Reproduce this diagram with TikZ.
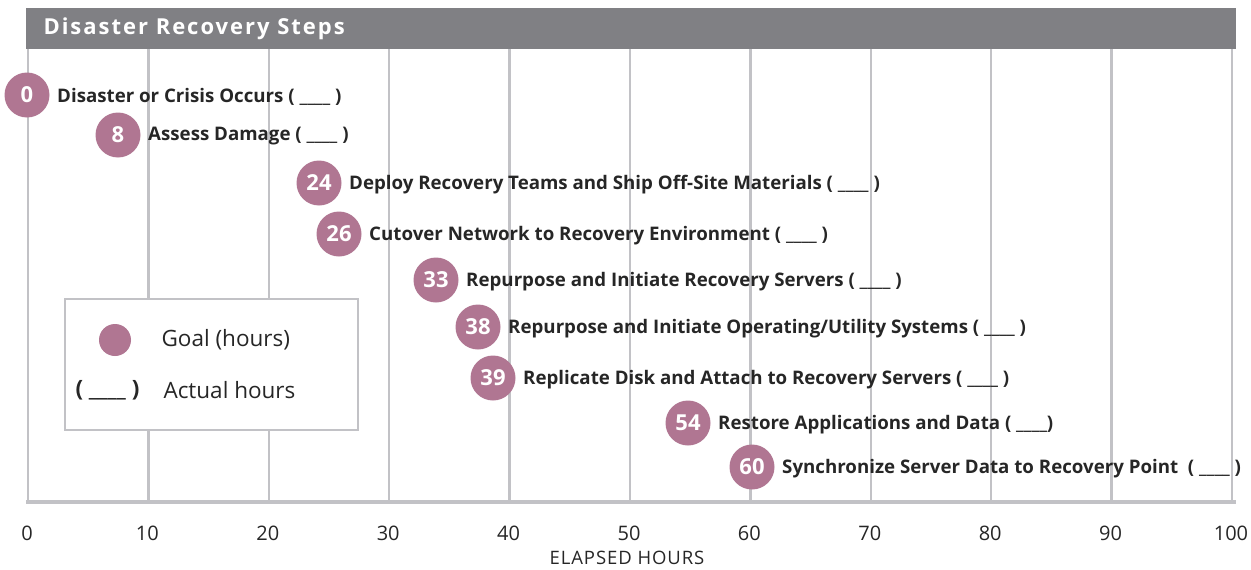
\documentclass[tikz,border=0pt]{standalone}
\usepackage{fontspec}
\setmainfont{Open Sans}
\usetikzlibrary{positioning}
\definecolor{mauve}{RGB}{176,118,146}
\definecolor{headgray}{RGB}{128,128,132}
\definecolor{gridgray}{RGB}{194,194,198}
\begin{document}
\begin{tikzpicture}[x=1pt, y=-1pt, line cap=butt,
	gridline/.style={draw=gridgray, line width=2.5pt},
	goal/.style={circle, fill=mauve, minimum size=45pt, inner sep=0pt, text=white, font=\fontsize{22}{22}\selectfont\bfseries},
	steptext/.style={anchor=west, font=\fontsize{18.7}{18.7}\selectfont\bfseries, text=black!85},
	keytext/.style={anchor=west, font=\fontsize{22.5}{22.5}\selectfont, text=black!85},
	ticklabel/.style={font=\fontsize{20}{20}\selectfont, text=black!85}]
	\useasboundingbox (0,0) rectangle (1251,570);
	\def\u{12.04}
	% header
	\fill[headgray] (26,8) rectangle (1236,49);
	\node[anchor=west, text=white, font=\fontsize{22}{22}\selectfont\bfseries\addfontfeatures{LetterSpace=9}] (title) at (40,29) {Disaster Recovery Steps};
	% grid and axis
	\foreach \h in {0,10,...,100}{
		\draw[gridline] (28+\h*\u,49) -- (28+\h*\u,502);
		\node[ticklabel] (tick\h) at (27+\h*\u,533) {\h};
	}
	\draw[gridgray, line width=4.5pt] (26,502) -- (1236,502);
	\node[font=\fontsize{18.5}{18.5}\selectfont\addfontfeatures{LetterSpace=5}, text=black!85] (axis) at (627,558) {ELAPSED HOURS};
	% legend
	\draw[gridgray, line width=2pt, fill=white] (65,299) rectangle (358,430);
	\node[goal, minimum size=32pt] (key) at (115,340) {};
	\node[keytext] (keygoal) at (158,340) {Goal (hours)};
	\node[keytext, font=\fontsize{22.5}{22.5}\selectfont\bfseries] (keyblank) at (72,390) {( \_\_\_\_ )};
	\node[keytext] (keyactual) at (160,390) {Actual hours};
	% steps
	\foreach \g/\x/\y/\t in {0/27/95/{Disaster or Crisis Occurs ( \_\_\_\_ )},
		8/118/135/{Assess Damage ( \_\_\_\_ )},
		24/319/183/{Deploy Recovery Teams and Ship Off-Site Materials ( \_\_\_\_ )},
		26/339/234/{Cutover Network to Recovery Environment ( \_\_\_\_ )},
		33/436/280/{Repurpose and Initiate Recovery Servers ( \_\_\_\_ )},
		38/478/327/{Repurpose and Initiate Operating/Utility Systems ( \_\_\_\_ )},
		39/493/378/{Replicate Disk and Attach to Recovery Servers ( \_\_\_\_ )},
		54/688/423/{Restore Applications and Data ( \_\_\_\_)},
		60/752/467/{Synchronize Server Data to Recovery Point \ ( \_\_\_\_ )}}{
		\node[goal] (g\g) at (\x,\y) {\g};
		\node[steptext, right=4pt of g\g, yshift=-1.5pt] (t\g) {\t};
	}
\end{tikzpicture}
\end{document}
